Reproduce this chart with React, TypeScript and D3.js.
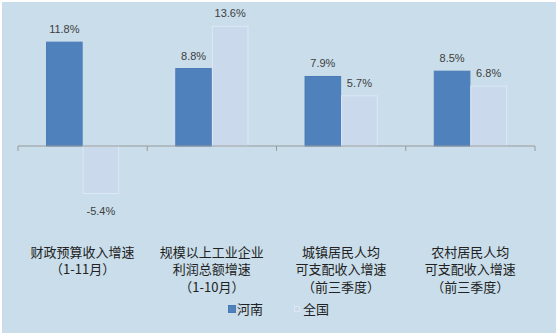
import React from "react";
import * as d3 from "d3";

const categories: string[][] = [
  ["财政预算收入增速", "（1-11月）"],
  ["规模以上工业企业", "利润总额增速", "（1-10月）"],
  ["城镇居民人均", "可支配收入增速", "（前三季度）"],
  ["农村居民人均", "可支配收入增速", "（前三季度）"],
];
const seriesNames = ["河南", "全国"];
const henan = [11.8, 8.8, 7.9, 8.5];
const national = [-5.4, 13.6, 5.7, 6.8];

const W = 558;
const H = 336;
const BG = "#c9ddea";
const HENAN_FILL = "#4f81bd";
const HENAN_STROKE = "#4a7ab5";
const NAT_FILL = "#cad9ec";
const NAT_STROKE = "#dde8f5";

export default function App() {
  const x0 = d3
    .scaleBand<number>()
    .domain(d3.range(categories.length))
    .range([18, 535])
    .padding(0);
  const x1 = d3
    .scaleBand<string>()
    .domain(seriesNames)
    .range([0, x0.bandwidth()])
    .paddingInner(0)
    .paddingOuter(0.767);
  const y = d3.scaleLinear().domain([-6, 16]).range([198.8, 5.2]);
  const y0 = y(0);
  const values = [henan, national];
  const cjk = "'Noto Sans CJK SC', 'Microsoft YaHei', sans-serif";
  const num = "'Liberation Sans', Arial, sans-serif";

  const ticks = d3.range(categories.length + 1).map((i) =>
    i < categories.length ? (x0(i) as number) : (x0(i - 1) as number) + x0.bandwidth()
  );

  return (
    <svg
      width={W}
      height={H}
      style={{ position: "absolute", left: 0, top: 0, background: "#ffffff" }}
    >
      <rect x={2} y={2} width={W - 4} height={H - 5} fill={BG} />
      {values.map((vals, si) =>
        vals.map((v, ci) => {
          const bx = (x0(ci) as number) + (x1(seriesNames[si]) as number);
          const top = Math.min(y(v), y0);
          const h = Math.abs(y(v) - y0);
          return (
            <g key={`b${si}-${ci}`}>
              <rect
                x={bx + 0.5}
                y={top}
                width={x1.bandwidth() - 1}
                height={h}
                fill={si === 0 ? HENAN_FILL : NAT_FILL}
                stroke={si === 0 ? HENAN_STROKE : NAT_STROKE}
                strokeWidth={1}
              />
              <text
                x={bx + x1.bandwidth() / 2}
                y={v >= 0 ? y(v) - 13 : y(v) + 17}
                textAnchor="middle"
                dominantBaseline="central"
                fontFamily={num}
                fontSize={11}
                fill="#404040"
              >
                {v.toFixed(1)}%
              </text>
            </g>
          );
        })
      )}
      <line x1={18} x2={535} y1={y0} y2={y0} stroke="#9a9a9a" strokeWidth={1.2} />
      {ticks.map((t, i) => (
        <line key={`t${i}`} x1={t} x2={t} y1={y0} y2={y0 + 5} stroke="#9a9a9a" strokeWidth={1} />
      ))}
      {categories.map((lines, ci) => (
        <text
          key={`c${ci}`}
          textAnchor="middle"
          fontFamily={cjk}
          fontSize={13}
          fill="#222222"
        >
          {lines.map((ln, li) => (
            <tspan
              key={li}
              x={(x0(ci) as number) + x0.bandwidth() / 2}
              y={251 + li * 17.5}
              dominantBaseline="central"
            >
              {ln}
            </tspan>
          ))}
        </text>
      ))}
      <g>
        <rect x={228.5} y={305.5} width={7} height={7} fill={HENAN_FILL} stroke={HENAN_STROKE} />
        <text x={237} y={308.5} dominantBaseline="central" fontFamily={cjk} fontSize={13} fill="#222222">
          {seriesNames[0]}
        </text>
        <rect x={294.5} y={306.5} width={5} height={5} fill={NAT_FILL} stroke={NAT_STROKE} />
        <text x={303} y={308.5} dominantBaseline="central" fontFamily={cjk} fontSize={13} fill="#222222">
          {seriesNames[1]}
        </text>
      </g>
    </svg>
  );
}
